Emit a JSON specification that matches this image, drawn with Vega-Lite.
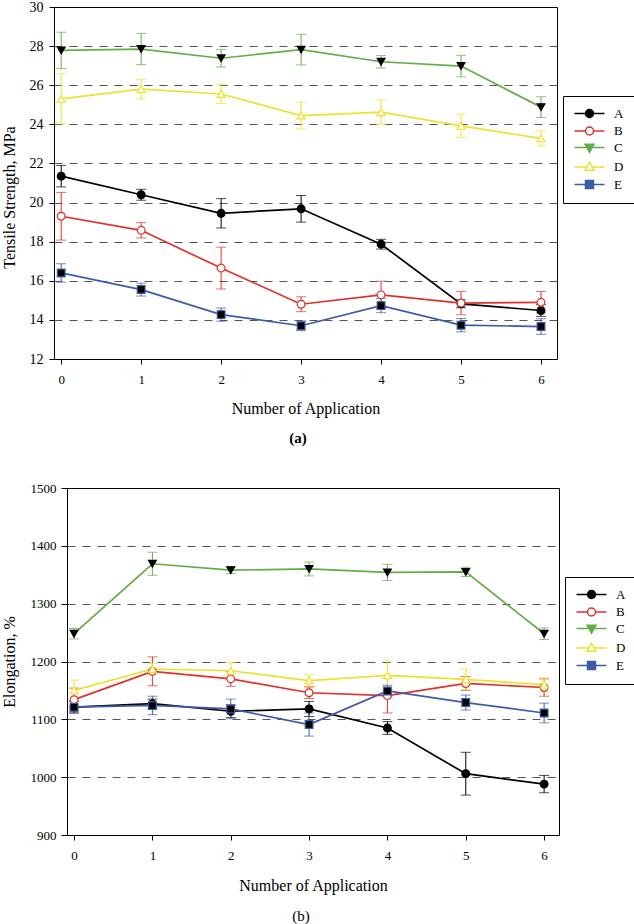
{
  "$schema": "https://vega.github.io/schema/vega-lite/v6.json",
  "padding": {"left": 0, "top": 0, "right": 0, "bottom": 0},
  "background": "white",
  "config": {
    "font": "Liberation Serif",
    "view": {"stroke": "black", "strokeWidth": 1},
    "axis": {
      "labelFont": "Liberation Serif", "titleFont": "Liberation Serif",
      "labelColor": "black", "titleColor": "black",
      "domainColor": "black", "tickColor": "black",
      "titleFontWeight": "normal", "labelFontSize": 13, "titleFontSize": 15,
      "tickSize": 5, "labelPadding": 6
    },
    "legend": {
      "labelFont": "Liberation Serif", "labelFontSize": 13, "labelColor": "black"
    }
  },
  "datasets": {
    "tensile": [
      {"n": 0, "s": "A", "v": 21.35, "err": 0.55},
      {"n": 1, "s": "A", "v": 20.4, "err": 0.28},
      {"n": 2, "s": "A", "v": 19.45, "err": 0.75},
      {"n": 3, "s": "A", "v": 19.68, "err": 0.68},
      {"n": 4, "s": "A", "v": 17.87, "err": 0.25},
      {"n": 5, "s": "A", "v": 14.82, "err": 0.2},
      {"n": 6, "s": "A", "v": 14.48, "err": 0.3},
      {"n": 0, "s": "B", "v": 19.3, "err": 1.22},
      {"n": 1, "s": "B", "v": 18.58, "err": 0.39},
      {"n": 2, "s": "B", "v": 16.65, "err": 1.07},
      {"n": 3, "s": "B", "v": 14.8, "err": 0.38},
      {"n": 4, "s": "B", "v": 15.28, "err": 0.7},
      {"n": 5, "s": "B", "v": 14.86, "err": 0.6},
      {"n": 6, "s": "B", "v": 14.9, "err": 0.55},
      {"n": 0, "s": "C", "v": 27.78, "err": 0.93},
      {"n": 1, "s": "C", "v": 27.85, "err": 0.8},
      {"n": 2, "s": "C", "v": 27.38, "err": 0.45},
      {"n": 3, "s": "C", "v": 27.82, "err": 0.78},
      {"n": 4, "s": "C", "v": 27.2, "err": 0.32},
      {"n": 5, "s": "C", "v": 26.98, "err": 0.55},
      {"n": 6, "s": "C", "v": 24.88, "err": 0.53},
      {"n": 0, "s": "D", "v": 25.3, "err": 1.28},
      {"n": 1, "s": "D", "v": 25.8, "err": 0.5},
      {"n": 2, "s": "D", "v": 25.55, "err": 0.48},
      {"n": 3, "s": "D", "v": 24.45, "err": 0.68},
      {"n": 4, "s": "D", "v": 24.62, "err": 0.62},
      {"n": 5, "s": "D", "v": 23.92, "err": 0.6},
      {"n": 6, "s": "D", "v": 23.28, "err": 0.39},
      {"n": 0, "s": "E", "v": 16.4, "err": 0.47},
      {"n": 1, "s": "E", "v": 15.55, "err": 0.33},
      {"n": 2, "s": "E", "v": 14.27, "err": 0.34},
      {"n": 3, "s": "E", "v": 13.7, "err": 0.25},
      {"n": 4, "s": "E", "v": 14.73, "err": 0.36},
      {"n": 5, "s": "E", "v": 13.73, "err": 0.34},
      {"n": 6, "s": "E", "v": 13.66, "err": 0.4}
    ],
    "elong": [
      {"n": 0, "s": "A", "v": 1121, "err": 10},
      {"n": 1, "s": "A", "v": 1127, "err": 8},
      {"n": 2, "s": "A", "v": 1114, "err": 11},
      {"n": 3, "s": "A", "v": 1118, "err": 13},
      {"n": 4, "s": "A", "v": 1085, "err": 11},
      {"n": 5, "s": "A", "v": 1006, "err": 37},
      {"n": 6, "s": "A", "v": 988, "err": 15},
      {"n": 0, "s": "B", "v": 1134, "err": 20},
      {"n": 1, "s": "B", "v": 1183, "err": 25},
      {"n": 2, "s": "B", "v": 1170, "err": 13},
      {"n": 3, "s": "B", "v": 1146, "err": 10},
      {"n": 4, "s": "B", "v": 1141, "err": 30},
      {"n": 5, "s": "B", "v": 1162, "err": 12},
      {"n": 6, "s": "B", "v": 1155, "err": 15},
      {"n": 0, "s": "C", "v": 1248, "err": 9},
      {"n": 1, "s": "C", "v": 1369, "err": 20},
      {"n": 2, "s": "C", "v": 1358, "err": 6},
      {"n": 3, "s": "C", "v": 1360, "err": 12},
      {"n": 4, "s": "C", "v": 1354, "err": 14},
      {"n": 5, "s": "C", "v": 1355, "err": 8},
      {"n": 6, "s": "C", "v": 1248, "err": 10},
      {"n": 0, "s": "D", "v": 1150, "err": 18},
      {"n": 1, "s": "D", "v": 1187, "err": 10},
      {"n": 2, "s": "D", "v": 1184, "err": 14},
      {"n": 3, "s": "D", "v": 1167, "err": 10},
      {"n": 4, "s": "D", "v": 1176, "err": 25},
      {"n": 5, "s": "D", "v": 1169, "err": 18},
      {"n": 6, "s": "D", "v": 1160, "err": 12},
      {"n": 0, "s": "E", "v": 1121, "err": 10},
      {"n": 1, "s": "E", "v": 1124, "err": 16},
      {"n": 2, "s": "E", "v": 1118, "err": 17},
      {"n": 3, "s": "E", "v": 1091, "err": 20},
      {"n": 4, "s": "E", "v": 1149, "err": 10},
      {"n": 5, "s": "E", "v": 1129, "err": 13},
      {"n": 6, "s": "E", "v": 1111, "err": 17}
    ]
  },
  "spacing": 35,
  "center": false,
  "resolve": {
    "scale": {"x": "independent", "y": "independent", "color": "independent", "fill": "independent", "stroke": "independent", "shape": "independent"},
    "legend": {"color": "independent", "fill": "independent", "stroke": "independent", "shape": "independent"}
  },
  "vconcat": [
    {
      "width": 490,
      "height": 352,
      "view": {"stroke": null},
      "title": {"text": "(a)", "orient": "bottom", "anchor": "middle", "font": "Liberation Serif", "fontSize": 15, "fontWeight": "bold", "color": "black", "offset": 15, "dx": -14},
      "data": {"name": "tensile"},
      "resolve": {"axis": {"x": "independent", "y": "independent"}},
      "layer": [
        {
          "mark": {"type": "errorbar", "ticks": {"size": 10}, "thickness": 1},
          "encoding": {
            "x": {"field": "n", "type": "quantitative",
              "scale": {"domain": [-0.09, 6.2], "range": [-13, 490], "nice": false, "zero": false},
              "axis": {"values": [0, 1, 2, 3, 4, 5, 6], "title": "Number of Application", "titleFontSize": 16, "titlePadding": 14, "grid": false, "labelPadding": 9}},
            "y": {"field": "v", "type": "quantitative",
              "scale": {"domain": [12, 30], "nice": false, "zero": false},
              "axis": {"values": [12, 14, 16, 18, 20, 22, 24, 26, 28, 30], "offset": 13, "title": "Tensile Strength, MPa", "titleFontSize": 16, "titlePadding": 12, "labelFontSize": 14, "titleY": 190, "format": "d",
                "grid": true, "gridColor": "#555555", "gridDash": [8, 7], "gridWidth": 1,
                "gridOpacity": {"condition": {"test": "datum.value === 12 || datum.value === 30", "value": 0}, "value": 1}}},
            "yError": {"field": "err"},
            "color": {"field": "s", "type": "nominal",
              "scale": {"domain": ["A", "B", "C", "D", "E"], "range": ["#000000", "#e0322b", "#63ad48", "#ece22c", "#3d5ba7"]},
              "legend": {
                "orient": "none", "legendX": 496, "legendY": 89, "title": null,
                "strokeColor": "black", "padding": 11, "symbolSize": 100, "symbolStrokeWidth": 1.5,
                "labelOffset": 27, "rowPadding": 2.5, "labelFontSize": 13,
                "labelExpr": "datum.label + '\u2002'",
                "encode": {"symbols": {"update": {
                  "shape": {"signal": "datum.value === 'A' ? 'M-1.2,0H4.8M2.6,0A0.8,0.8,0,1,1,1,0A0.8,0.8,0,1,1,2.6,0Z' : datum.value === 'B' ? 'M-1.2,0H1M2.6,0H4.8M2.6,0A0.8,0.8,0,1,1,1,0A0.8,0.8,0,1,1,2.6,0ZM2.6,0A0.8,0.8,0,1,0,1,0A0.8,0.8,0,1,0,2.6,0Z' : datum.value === 'C' ? 'M-1.2,0H4.8M0.9,-0.65L2.7,-0.65L1.8,0.95Z' : datum.value === 'D' ? 'M-1.2,0H1.27M2.33,0H4.8M0.9,0.65L2.7,0.65L1.8,-0.95ZM0.9,0.65L1.8,-0.95L2.7,0.65Z' : 'M-1.2,0H4.8M1,-0.8H2.6V0.8H1Z'"},
                  "opacity": {"value": 1},
                  "strokeWidth": {"value": 1.5}
                }}}
              }}
          }
        },
        {
          "mark": {"type": "line", "strokeWidth": 1.7},
          "encoding": {
            "x": {"field": "n", "type": "quantitative",
              "scale": {"domain": [-0.09, 6.2], "range": [-13, 490], "nice": false, "zero": false},
              "axis": {"orient": "top", "labels": false, "ticks": false, "title": null, "grid": false, "domain": true}},
            "y": {"field": "v", "type": "quantitative",
              "scale": {"domain": [12, 30], "nice": false, "zero": false},
              "axis": {"orient": "right", "labels": false, "ticks": false, "title": null, "grid": false, "domain": true}},
            "color": {"field": "s", "type": "nominal",
              "scale": {"domain": ["A", "B", "C", "D", "E"], "range": ["#000000", "#e0322b", "#63ad48", "#ece22c", "#3d5ba7"]},
              "legend": {
                "orient": "none", "legendX": 496, "legendY": 89, "title": null,
                "strokeColor": "black", "padding": 11, "symbolSize": 100, "symbolStrokeWidth": 1.5,
                "labelOffset": 27, "rowPadding": 2.5, "labelFontSize": 13,
                "labelExpr": "datum.label + '\u2002'",
                "encode": {"symbols": {"update": {
                  "shape": {"signal": "datum.value === 'A' ? 'M-1.2,0H4.8M2.6,0A0.8,0.8,0,1,1,1,0A0.8,0.8,0,1,1,2.6,0Z' : datum.value === 'B' ? 'M-1.2,0H1M2.6,0H4.8M2.6,0A0.8,0.8,0,1,1,1,0A0.8,0.8,0,1,1,2.6,0ZM2.6,0A0.8,0.8,0,1,0,1,0A0.8,0.8,0,1,0,2.6,0Z' : datum.value === 'C' ? 'M-1.2,0H4.8M0.9,-0.65L2.7,-0.65L1.8,0.95Z' : datum.value === 'D' ? 'M-1.2,0H1.27M2.33,0H4.8M0.9,0.65L2.7,0.65L1.8,-0.95ZM0.9,0.65L1.8,-0.95L2.7,0.65Z' : 'M-1.2,0H4.8M1,-0.8H2.6V0.8H1Z'"},
                  "opacity": {"value": 1},
                  "strokeWidth": {"value": 1.5}
                }}}
              }}
          }
        },
        {
          "mark": {"type": "point", "filled": true, "size": 60, "opacity": 1, "strokeWidth": 1.2},
          "encoding": {
            "x": {"field": "n", "type": "quantitative",
              "scale": {"domain": [-0.09, 6.2], "range": [-13, 490], "nice": false, "zero": false}, "axis": null},
            "y": {"field": "v", "type": "quantitative",
              "scale": {"domain": [12, 30], "nice": false, "zero": false}, "axis": null},
            "shape": {"field": "s", "type": "nominal", "legend": null,
              "scale": {"range": ["circle", "circle", "triangle-down", "triangle-up", "square"]}},
            "fill": {"field": "s", "type": "nominal", "legend": null,
              "scale": {"range": ["#000000", "#ffffff", "#000000", "#ffffff", "#000000"]}},
            "stroke": {"field": "s", "type": "nominal", "legend": null,
              "scale": {"range": ["#000000", "#e0322b", "#000000", "#ece22c", "#3d5ba7"]}}
          }
        }
      ]
    },
    {
      "width": 492,
      "height": 347,
      "title": {"text": "(b)", "orient": "bottom", "anchor": "middle", "font": "Liberation Serif", "fontSize": 15, "fontWeight": "normal", "color": "black", "offset": 16, "dx": -12},
      "data": {"name": "elong"},
      "encoding": {
        "x": {"field": "n", "type": "quantitative",
          "scale": {"domain": [-0.09, 6.19], "nice": false, "zero": false},
          "axis": {"values": [0, 1, 2, 3, 4, 5, 6], "title": "Number of Application", "titleFontSize": 16, "titlePadding": 15, "grid": false, "labelPadding": 9}},
        "y": {"field": "v", "type": "quantitative",
          "scale": {"domain": [900, 1500], "nice": false, "zero": false},
          "axis": {"values": [900, 1000, 1100, 1200, 1300, 1400, 1500], "title": "Elongation, %", "titleFontSize": 16, "titlePadding": 13, "labelFontSize": 13, "tickSize": 6, "labelPadding": 5, "format": "d",
            "grid": true, "gridColor": "#555555", "gridDash": [8, 7], "gridWidth": 1,
            "gridOpacity": {"condition": {"test": "datum.value === 900 || datum.value === 1500", "value": 0}, "value": 1}}}
      },
      "layer": [
        {
          "mark": {"type": "errorbar", "ticks": {"size": 10}, "thickness": 1},
          "encoding": {
            "yError": {"field": "err"},
            "color": {"field": "s", "type": "nominal",
              "scale": {"domain": ["A", "B", "C", "D", "E"], "range": ["#000000", "#e0322b", "#63ad48", "#ece22c", "#3d5ba7"]},
              "legend": {
                "orient": "none", "legendX": 498, "legendY": 89, "title": null,
                "strokeColor": "black", "padding": 11, "symbolSize": 100, "symbolStrokeWidth": 1.5,
                "labelOffset": 27, "rowPadding": 2.5, "labelFontSize": 13,
                "labelExpr": "datum.label + '\u2002'",
                "encode": {"symbols": {"update": {
                  "shape": {"signal": "datum.value === 'A' ? 'M-1.2,0H4.8M2.6,0A0.8,0.8,0,1,1,1,0A0.8,0.8,0,1,1,2.6,0Z' : datum.value === 'B' ? 'M-1.2,0H1M2.6,0H4.8M2.6,0A0.8,0.8,0,1,1,1,0A0.8,0.8,0,1,1,2.6,0ZM2.6,0A0.8,0.8,0,1,0,1,0A0.8,0.8,0,1,0,2.6,0Z' : datum.value === 'C' ? 'M-1.2,0H4.8M0.9,-0.65L2.7,-0.65L1.8,0.95Z' : datum.value === 'D' ? 'M-1.2,0H1.27M2.33,0H4.8M0.9,0.65L2.7,0.65L1.8,-0.95ZM0.9,0.65L1.8,-0.95L2.7,0.65Z' : 'M-1.2,0H4.8M1,-0.8H2.6V0.8H1Z'"},
                  "opacity": {"value": 1},
                  "strokeWidth": {"value": 1.5}
                }}}
              }}
          }
        },
        {
          "mark": {"type": "line", "strokeWidth": 1.7},
          "encoding": {
            "color": {"field": "s", "type": "nominal",
              "scale": {"domain": ["A", "B", "C", "D", "E"], "range": ["#000000", "#e0322b", "#63ad48", "#ece22c", "#3d5ba7"]},
              "legend": {
                "orient": "none", "legendX": 498, "legendY": 89, "title": null,
                "strokeColor": "black", "padding": 11, "symbolSize": 100, "symbolStrokeWidth": 1.5,
                "labelOffset": 27, "rowPadding": 2.5, "labelFontSize": 13,
                "labelExpr": "datum.label + '\u2002'",
                "encode": {"symbols": {"update": {
                  "shape": {"signal": "datum.value === 'A' ? 'M-1.2,0H4.8M2.6,0A0.8,0.8,0,1,1,1,0A0.8,0.8,0,1,1,2.6,0Z' : datum.value === 'B' ? 'M-1.2,0H1M2.6,0H4.8M2.6,0A0.8,0.8,0,1,1,1,0A0.8,0.8,0,1,1,2.6,0ZM2.6,0A0.8,0.8,0,1,0,1,0A0.8,0.8,0,1,0,2.6,0Z' : datum.value === 'C' ? 'M-1.2,0H4.8M0.9,-0.65L2.7,-0.65L1.8,0.95Z' : datum.value === 'D' ? 'M-1.2,0H1.27M2.33,0H4.8M0.9,0.65L2.7,0.65L1.8,-0.95ZM0.9,0.65L1.8,-0.95L2.7,0.65Z' : 'M-1.2,0H4.8M1,-0.8H2.6V0.8H1Z'"},
                  "opacity": {"value": 1},
                  "strokeWidth": {"value": 1.5}
                }}}
              }}
          }
        },
        {
          "mark": {"type": "point", "filled": true, "size": 60, "opacity": 1, "strokeWidth": 1.2},
          "encoding": {
            "shape": {"field": "s", "type": "nominal", "legend": null,
              "scale": {"range": ["circle", "circle", "triangle-down", "triangle-up", "square"]}},
            "fill": {"field": "s", "type": "nominal", "legend": null,
              "scale": {"range": ["#000000", "#ffffff", "#000000", "#ffffff", "#000000"]}},
            "stroke": {"field": "s", "type": "nominal", "legend": null,
              "scale": {"range": ["#000000", "#e0322b", "#000000", "#ece22c", "#3d5ba7"]}}
          }
        }
      ]
    }
  ]
}
